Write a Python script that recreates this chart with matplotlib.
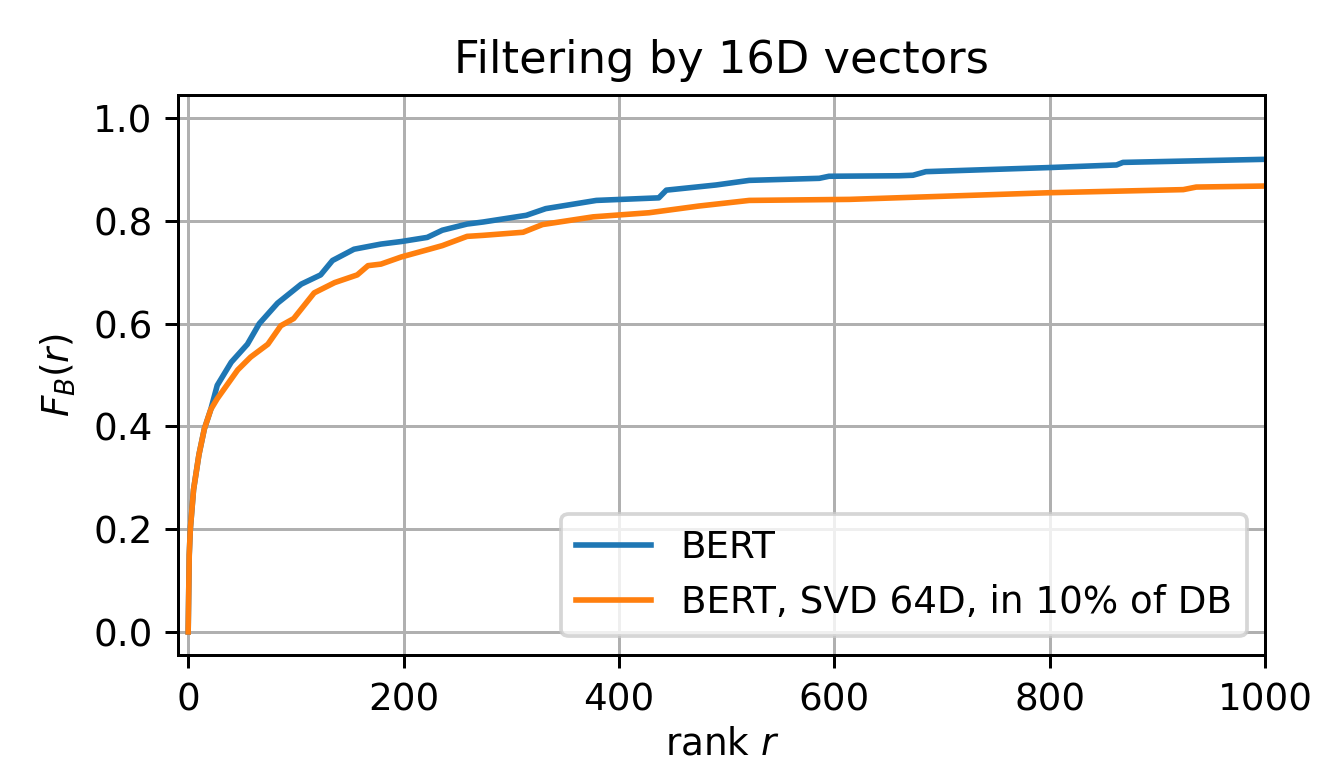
import matplotlib
matplotlib.use('Agg')
import matplotlib.pyplot as plt

# ранги и значения F_B(r)
rank_bert = [0, 1, 2, 5, 10, 15, 21, 27, 40, 55, 66, 83, 105, 123, 134, 154, 179, 198, 222,
             236, 259, 274, 314, 332, 379, 437, 444, 490, 521, 586, 595, 660, 673, 685,
             800, 862, 868, 1000]
f_bert = [0, 0.15, 0.2, 0.277, 0.345, 0.395, 0.433, 0.48, 0.525, 0.56, 0.60, 0.64, 0.677,
          0.695, 0.723, 0.745, 0.755, 0.76, 0.768, 0.782, 0.794, 0.798, 0.811, 0.824, 0.84,
          0.845, 0.86, 0.87, 0.879, 0.883, 0.887, 0.888, 0.889, 0.896, 0.904, 0.909, 0.914,
          0.92]

rank_svd = [0, 1, 2, 5, 10, 15, 21, 27, 46, 58, 74, 86, 98, 117, 136, 157, 167, 179, 198,
            224, 236, 259, 274, 311, 329, 376, 428, 474, 521, 614, 800, 924, 936, 1000]
f_svd = [0, 0.15, 0.2, 0.277, 0.345, 0.395, 0.433, 0.454, 0.51, 0.535, 0.56, 0.596, 0.61,
         0.66, 0.68, 0.695, 0.713, 0.716, 0.73, 0.745, 0.752, 0.77, 0.772, 0.778, 0.793,
         0.808, 0.816, 0.829, 0.84, 0.842, 0.855, 0.861, 0.866, 0.868]

labels = ['BERT', 'BERT, SVD 64D, in 10% of DB']

dpi = 268.4
fig = plt.figure(figsize=(1322 / dpi, 767 / dpi), dpi=dpi)
ax = fig.add_axes([0.135, 0.146, 0.822, 0.730])

ax.plot(rank_bert, f_bert, color='#1f77b4', label=labels[0])
ax.plot(rank_svd, f_svd, color='#ff7f0e', label=labels[1])

ax.set_xlim(-9, 1000)
ax.set_ylim(-0.045, 1.045)
ax.set_title('Filtering by 16D vectors')
ax.set_xlabel('rank $r$', labelpad=2)
ax.set_ylabel('$F_B(r)$')
ax.grid(True)
ax.legend(loc='lower right')

fig.savefig('out.png', dpi=dpi)
